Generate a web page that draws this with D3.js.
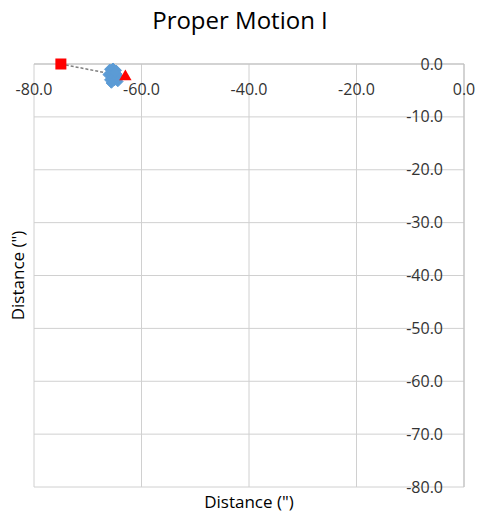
<!DOCTYPE html>
<html>
<head>
<meta charset="utf-8">
<script src="https://cdn.jsdelivr.net/npm/d3@7"></script>
<style>
  body { margin: 0; background: #fff; }
  text { font-family: "Open Sans", "Liberation Sans", sans-serif; fill: #333; }
</style>
</head>
<body>
<svg id="chart" width="479" height="514"></svg>
<script>
// Data
const xTicks = [-80, -60, -40, -20, 0];
const yTicks = [0, -10, -20, -30, -40, -50, -60, -70, -80];
// start position (red square) and end position (red triangle)
const startPos = [-75.0, 0.0];
const endPos = [-63.0, -2.4];
// measured positions (blue diamonds)
const measX = [-65.9, -65.3, -64.7, -66.2, -65.4, -64.6, -64.2, -65.9, -65.0, -64.4, -65.6, -64.9];
const measY = [-1.0, -0.8, -1.2, -2.0, -2.1, -1.9, -2.5, -3.0, -3.1, -3.3, -3.6, -1.6];

const fmt = d => d3.format('.1f')(d).replace('\u2212', '-');

const svg = d3.select('#chart');
const margin = { left: 34, right: 15, top: 64, bottom: 27 };
const width = 479 - margin.left - margin.right;
const height = 514 - margin.top - margin.bottom;
const g = svg.append('g').attr('transform', `translate(${margin.left},${margin.top})`);

const x = d3.scaleLinear().domain([-80, 0]).range([0, width]);
const y = d3.scaleLinear().domain([-80, 0]).range([height, 0]);

// Gridlines
g.selectAll('.vgrid')
  .data(xTicks)
  .enter().append('line')
  .attr('x1', d => x(d)).attr('x2', d => x(d))
  .attr('y1', 0).attr('y2', height)
  .attr('stroke', '#d0d0d0').attr('stroke-width', 1);

g.selectAll('.hgrid')
  .data(yTicks)
  .enter().append('line')
  .attr('x1', 0).attr('x2', width)
  .attr('y1', d => y(d)).attr('y2', d => y(d))
  .attr('stroke', '#d0d0d0').attr('stroke-width', 1);

// Axis lines (x axis at y=0, y axis at x=0)
g.append('line')
  .attr('x1', 0).attr('x2', width)
  .attr('y1', y(0)).attr('y2', y(0))
  .attr('stroke', '#bfbfbf');
g.append('line')
  .attr('x1', x(0)).attr('x2', x(0))
  .attr('y1', 0).attr('y2', height)
  .attr('stroke', '#bfbfbf');

// X tick labels below the top axis
g.selectAll('.xlab')
  .data(xTicks)
  .enter().append('text')
  .attr('x', d => x(d))
  .attr('y', y(0) + 31)
  .attr('text-anchor', 'middle')
  .style('font-size', '16px')
  .text(fmt);

// Y tick labels left of the right axis
g.selectAll('.ylab')
  .data(yTicks)
  .enter().append('text')
  .attr('x', x(0) - 21)
  .attr('y', d => y(d))
  .attr('dy', '0.35em')
  .attr('text-anchor', 'end')
  .style('font-size', '16px')
  .text(fmt);

// Dashed connector
g.append('line')
  .attr('x1', x(startPos[0])).attr('y1', y(startPos[1]))
  .attr('x2', x(endPos[0])).attr('y2', y(endPos[1]))
  .attr('stroke', '#7f7f7f')
  .attr('stroke-width', 1.5)
  .attr('stroke-dasharray', '3,2');

// Measured points
const meas = measX.map((v, i) => ({ x: v, y: measY[i] }));
g.selectAll('.pt')
  .data(meas)
  .enter().append('path')
  .attr('d', d3.symbol().type(d3.symbolDiamond2).size(70))
  .attr('transform', d => `translate(${x(d.x)},${y(d.y)})`)
  .attr('fill', '#5b9bd5')
  .attr('stroke', '#5b9bd5')
  .attr('stroke-width', 1);

// Start square
g.append('rect')
  .attr('x', x(startPos[0]) - 5.5).attr('y', y(startPos[1]) - 5.5)
  .attr('width', 11).attr('height', 11)
  .attr('fill', '#ff0000');

// End triangle
g.append('path')
  .attr('d', d3.symbol().type(d3.symbolTriangle2).size(110))
  .attr('transform', `translate(${x(endPos[0])},${y(endPos[1])})`)
  .attr('fill', '#ff0000');

// Title and axis labels
svg.append('text')
  .attr('x', 240).attr('y', 29)
  .attr('text-anchor', 'middle')
  .style('font-size', '24px')
  .style('fill', '#000')
  .text('Proper Motion I');

svg.append('text')
  .attr('x', 249).attr('y', 508)
  .attr('text-anchor', 'middle')
  .style('font-size', '17px')
  .style('fill', '#000')
  .text('Distance (")');

svg.append('text')
  .attr('transform', `translate(24,${margin.top + height / 2}) rotate(-90)`)
  .attr('text-anchor', 'middle')
  .style('font-size', '17px')
  .style('fill', '#000')
  .text('Distance (")');
</script>
</body>
</html>
